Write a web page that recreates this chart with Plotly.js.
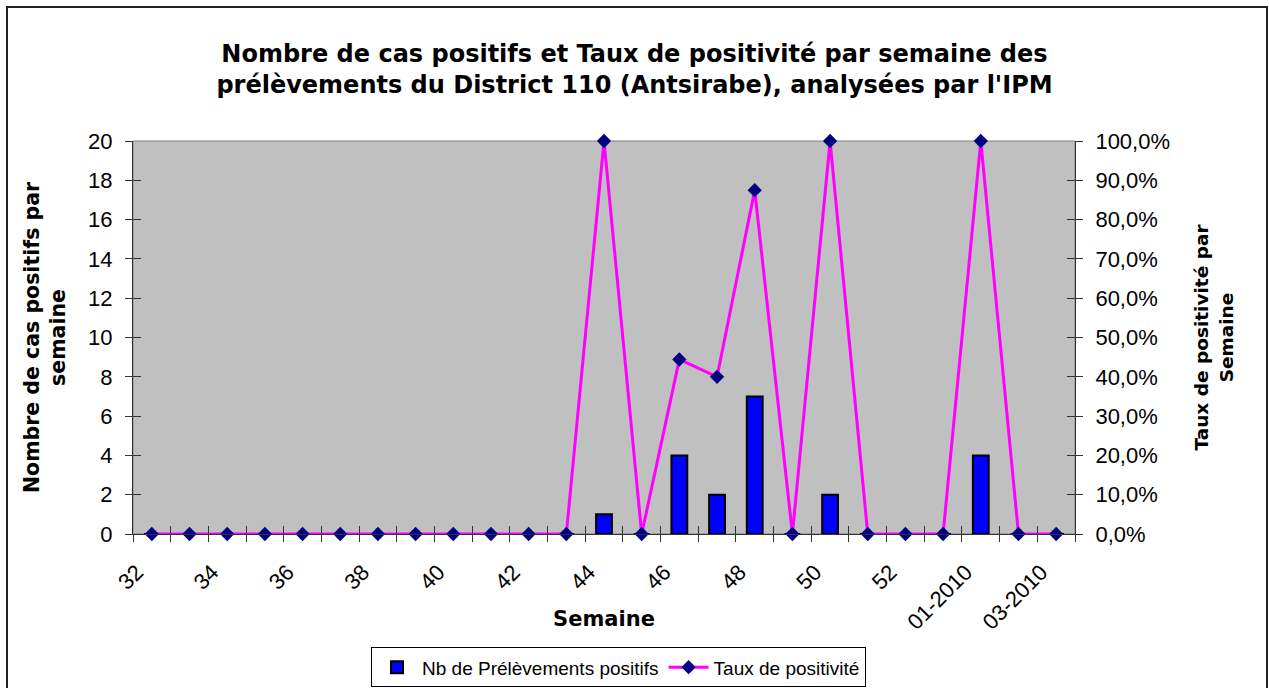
<!DOCTYPE html>
<html>
<head>
<meta charset="utf-8">
<script src="https://cdn.plot.ly/plotly-3.0.1.min.js"></script>
<style>html,body{margin:0;padding:0;background:#fff;}#chart{width:1269px;height:688px;}</style>
</head>
<body>
<div id="chart"></div>
<script>
// ---- Data ----
const semaines = ["32","33","34","35","36","37","38","39","40","41","42","43","44","45","46","47","48","49","50","51","52","53","01-2010","02-2010","03-2010"];
const nbPositifs = [0,0,0,0,0,0,0,0,0,0,0,0,1,0,4,2,7,0,2,0,0,0,4,0,0];
const tauxPositivite = [0,0,0,0,0,0,0,0,0,0,0,0,1.0,0,0.444,0.40,0.875,0,1.0,0,0,0,1.0,0,0];
const labelStep = 2;

// ---- Derived ----
const idx = semaines.map((_, i) => i);
const tickVals = idx.filter(i => i % labelStep === 0);
const tickText = tickVals.map(i => semaines[i]);
const xRange = [-0.5, semaines.length - 0.5];

const W = 1269, H = 688;
const M = {l:133, r:194, t:141, b:154};
const pw = W - M.l - M.r, ph = H - M.t - M.b;
const px2x = p => (p - M.l) / pw;
const px2y = p => (H - M.b - p) / ph;

const axisCol = '#333333';

// empty helper traces so that the overlay axes (labels / inner tick marks) get drawn
const helper = (xa, ya) => ({type: 'scatter', mode: 'markers', x: [], y: [], xaxis: xa, yaxis: ya,
  showlegend: false, hoverinfo: 'skip'});

const traces = [
  {
    type: 'bar', name: 'Nb de Prélèvements positifs',
    x: idx, y: nbPositifs, width: 0.42,
    marker: {color: '#0000FF', line: {color: '#000000', width: 2}},
    xaxis: 'x', yaxis: 'y', hoverinfo: 'y'
  },
  {
    type: 'scatter', mode: 'lines+markers', name: 'Taux de positivité',
    x: idx, y: tauxPositivite,
    line: {color: '#FF00FF', width: 3},
    marker: {symbol: 'diamond', color: '#000080', size: 11},
    xaxis: 'x', yaxis: 'y2', cliponaxis: false
  },
  helper('x2', 'y'), helper('x3', 'y'), helper('x', 'y3'), helper('x', 'y4')
];

const layout = {
  width: W, height: H,
  margin: M,
  paper_bgcolor: '#FFFFFF', plot_bgcolor: '#C0C0C0',
  separators: ', ',
  font: {family: 'Liberation Sans, Arial, sans-serif', size: 22, color: '#000000'},
  showlegend: true,
  bargap: 0,
  title: {
    text: '<b>Nombre de cas positifs et Taux de positivité par semaine des<br>prélèvements du District 110 (Antsirabe), analysées par l\'IPM</b>',
    font: {family: 'DejaVu Sans, sans-serif', size: 24, color: '#000000'},
    x: 0.5, xanchor: 'center', y: 1 - 62 / H, yanchor: 'middle'
  },
  // main x axis: boundary tick marks (outside) + axis title
  xaxis: {
    range: xRange, autorange: false,
    tickmode: 'linear', tick0: -0.5, dtick: 1,
    ticks: 'outside', ticklen: 7, tickcolor: axisCol, tickwidth: 1,
    showticklabels: false,
    showline: true, linecolor: axisCol, linewidth: 1,
    showgrid: false, zeroline: false,
    title: {text: '<b>Semaine</b>', font: {family: 'DejaVu Sans, sans-serif', size: 21}, standoff: 70}
  },
  // overlay: category labels every 2 weeks
  xaxis2: {
    overlaying: 'x', anchor: 'y', side: 'bottom',
    range: xRange, autorange: false,
    tickmode: 'array', tickvals: tickVals, ticktext: tickText,
    tickangle: -45, ticks: '', ticklabelstandoff: 20, ticklabelshift: -15,
    tickfont: {size: 22},
    showgrid: false, zeroline: false, showline: false
  },
  // overlay: boundary tick marks (inside)
  xaxis3: {
    overlaying: 'x', anchor: 'y', side: 'bottom',
    range: xRange, autorange: false,
    tickmode: 'linear', tick0: -0.5, dtick: 1,
    ticks: 'inside', ticklen: 8, tickcolor: axisCol, tickwidth: 1,
    showticklabels: false, showgrid: false, zeroline: false, showline: false
  },
  yaxis: {
    range: [0, 20], autorange: false, tickmode: 'linear', tick0: 0, dtick: 2,
    ticks: 'outside', ticklen: 7, tickcolor: axisCol, ticklabelstandoff: 8,
    showline: true, linecolor: axisCol, linewidth: 1,
    showgrid: false, zeroline: false,
    title: {text: '<b>Nombre de cas positifs par<br>semaine</b>', font: {family: 'DejaVu Sans, sans-serif', size: 20.5}, standoff: 16}
  },
  yaxis2: {
    overlaying: 'y', side: 'right', anchor: 'x',
    range: [0, 1], autorange: false, tickmode: 'linear', tick0: 0, dtick: 0.1,
    tickformat: '.1%',
    ticks: 'outside', ticklen: 7, tickcolor: axisCol, ticklabelstandoff: 8,
    showline: true, linecolor: axisCol, linewidth: 1,
    showgrid: false, zeroline: false,
    title: {text: '<b>Taux de positivité par<br>Semaine</b>', font: {family: 'DejaVu Sans, sans-serif', size: 18.5}, standoff: 26}
  },
  yaxis3: {
    overlaying: 'y', side: 'left', anchor: 'x',
    range: [0, 20], autorange: false, tickmode: 'linear', tick0: 0, dtick: 2,
    ticks: 'inside', ticklen: 8, tickcolor: axisCol,
    showticklabels: false, showgrid: false, zeroline: false, showline: false
  },
  yaxis4: {
    overlaying: 'y', side: 'right', anchor: 'x',
    range: [0, 1], autorange: false, tickmode: 'linear', tick0: 0, dtick: 0.1,
    ticks: 'inside', ticklen: 8, tickcolor: axisCol,
    showticklabels: false, showgrid: false, zeroline: false, showline: false
  },
  legend: {
    orientation: 'h', x: px2x(618.5), xanchor: 'center',
    yref: 'container', y: 0.001, yanchor: 'bottom',
    bordercolor: '#000000', borderwidth: 1, bgcolor: '#FFFFFF',
    font: {size: 19}, itemwidth: 40, traceorder: 'normal'
  },
  shapes: [
    {type: 'rect', xref: 'paper', yref: 'paper', x0: 0, x1: 1, y0: 0, y1: 1,
     line: {color: '#808080', width: 1}, layer: 'below'},
    {type: 'rect', xref: 'paper', yref: 'paper', x0: px2x(7), x1: px2x(1267), y0: px2y(700), y1: px2y(7),
     line: {color: '#222222', width: 2}, fillcolor: 'rgba(0,0,0,0)', layer: 'above'}
  ]
};

Plotly.newPlot('chart', traces, layout, {displayModeBar: false, staticPlot: true});
</script>
</body>
</html>
